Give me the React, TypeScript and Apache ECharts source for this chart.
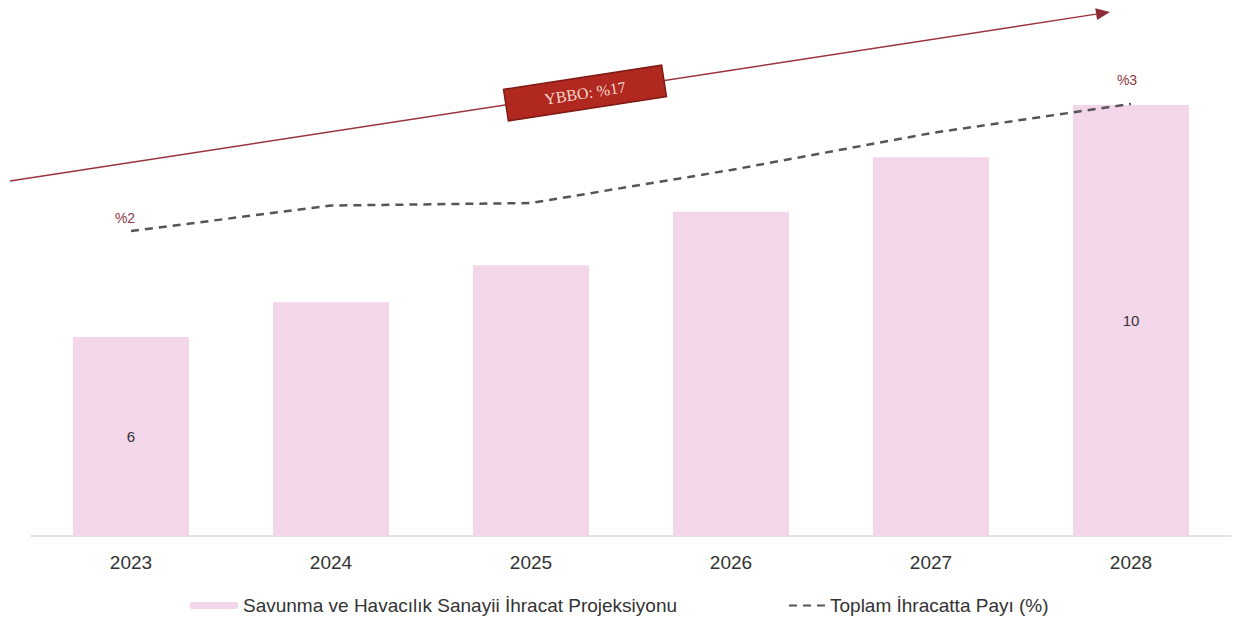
import React, { useEffect, useRef } from "react";
import * as echarts from "echarts";

const years = ["2023", "2024", "2025", "2026", "2027", "2028"];
const exportProjection = [6, 6.6, 7.24, 8.16, 9.1, 10];
const exportShare = [2, 2.2, 2.22, 2.48, 2.77, 3];
const shownBarLabels = [0, 5];
const shownLineLabels = [0, 5];
const barName = "Savunma ve Havacılık Sanayii İhracat Projeksiyonu";
const lineName = "Toplam İhracatta Payı (%)";
const cagrLabel = "YBBO: %17";

export default function App() {
  const ref = useRef<HTMLDivElement>(null);
  useEffect(() => {
    if (!ref.current) return;
    const chart = echarts.init(ref.current, undefined, { renderer: "svg" });
    const ax = 10, ay = 181, bx = 1110, by = 12;
    const ang = Math.atan2(by - ay, bx - ax);
    const hl = 14, hw = 6;
    const ex = bx - hl * Math.cos(ang), ey = by - hl * Math.sin(ang);
    const px = -Math.sin(ang), py = Math.cos(ang);
    chart.setOption({
      animation: false,
      textStyle: { fontFamily: "Liberation Sans, Arial, sans-serif" },
      grid: { left: 31, right: 6, top: 20, bottom: 89 },
      legend: [
        {
          data: [barName],
          left: 185,
          top: 591,
          itemWidth: 48,
          itemHeight: 7,
          textStyle: { fontSize: 19, color: "#333" },
        },
        {
          data: [lineName],
          left: 783,
          top: 591,
          itemWidth: 36,
          itemHeight: 7,
          itemStyle: { opacity: 0 },
          textStyle: { fontSize: 19, color: "#333" },
        },
      ],
      xAxis: {
        type: "category",
        data: years,
        axisTick: { show: false },
        axisLine: { onZero: false, lineStyle: { color: "#d9d9d9", width: 1.5 } },
        axisLabel: { color: "#333", fontSize: 19, margin: 17 },
      },
      yAxis: [
        { type: "value", min: 2.57, max: 11.467, show: false },
        { type: "value", min: -0.4, max: 3.66, show: false },
      ],
      series: [
        {
          name: barName,
          type: "bar",
          barWidth: 116,
          itemStyle: { color: "#f3d6ea" },
          data: exportProjection.map((v, i) => ({
            value: v,
            label: {
              show: shownBarLabels.includes(i),
              position: "inside",
              color: "#333",
              fontSize: 15,
              formatter: (p: any) => String(Math.round(p.value)),
            },
          })),
        },
        {
          name: lineName,
          type: "line",
          yAxisIndex: 1,
          symbol: "circle",
          symbolSize: 1,
          showSymbol: true,
          lineStyle: { color: "#555", width: 2.5, type: [8, 6] },
          itemStyle: { color: "rgba(0,0,0,0)" },
          data: exportShare.map((v, i) => ({
            value: v,
            label: {
              show: shownLineLabels.includes(i),
              position: "top",
              distance: 4,
              offset: i === 0 ? [-6, -1] : [-4, -12],
              color: "#8a3846",
              fontSize: 14,
              formatter: (p: any) => "%" + Math.round(p.value),
            },
          })),
          z: 5,
        },
      ],
      graphic: [
        {
          type: "line",
          shape: { x1: ax, y1: ay, x2: ex, y2: ey },
          style: { stroke: "#9a3340", lineWidth: 1.5 },
          z: 10,
        },
        {
          type: "polygon",
          shape: {
            points: [
              [bx, by],
              [ex + px * hw, ey + py * hw],
              [ex - px * hw, ey - py * hw],
            ],
          },
          style: { fill: "#8e2a36" },
          z: 10,
        },
        {
          type: "group",
          x: 585,
          y: 93,
          rotation: -ang,
          z: 20,
          children: [
            {
              type: "rect",
              shape: { x: -80, y: -16, width: 160, height: 32 },
              style: { fill: "#b0281f", stroke: "#7d1a14", lineWidth: 1.5 },
              z: 20,
            },
            {
              type: "text",
              x: 0,
              y: 0,
              style: {
                text: cagrLabel,
                fill: "#f7d8cc",
                fontSize: 16,
                fontFamily: "Liberation Serif, serif",
                align: "center",
                verticalAlign: "middle",
              },
              z: 21,
            },
          ],
        },
      ],
    });
    return () => chart.dispose();
  }, []);
  return (
    <div
      ref={ref}
      style={{ position: "absolute", left: 0, top: 0, width: 1237, height: 625, background: "#fff" }}
    />
  );
}
